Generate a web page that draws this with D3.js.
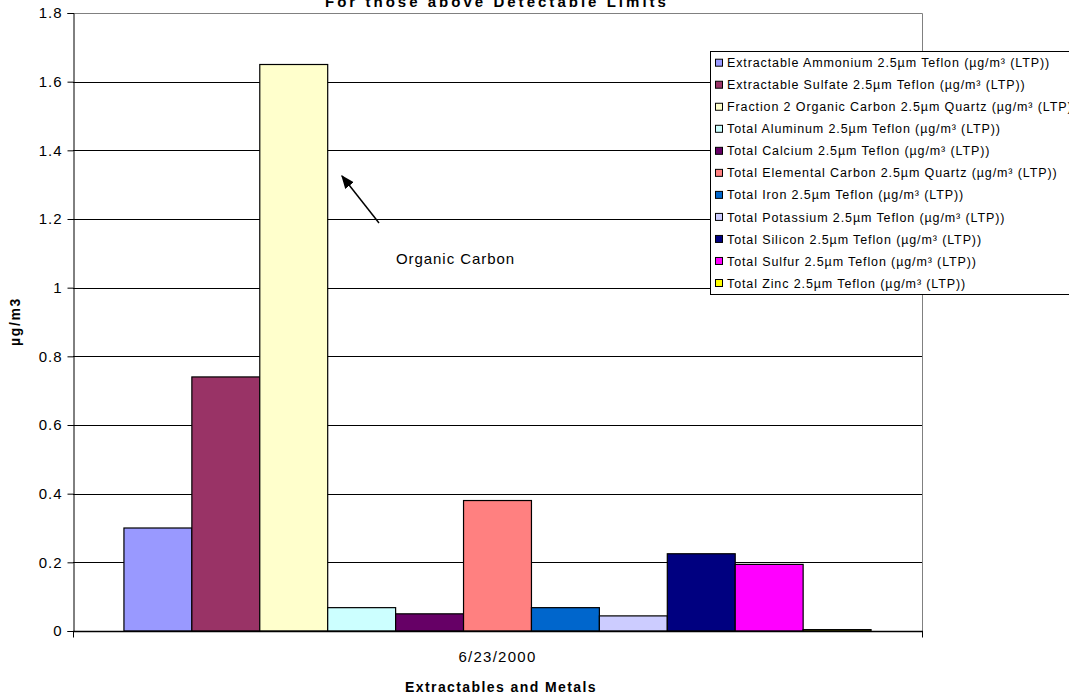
<!DOCTYPE html>
<html>
<head>
<meta charset="utf-8">
<script src="https://cdn.jsdelivr.net/npm/d3@7"></script>
<style>
  html, body { margin: 0; padding: 0; background: #fff; }
  svg { display: block; font-family: "Liberation Sans", Arial, sans-serif; }
</style>
</head>
<body>
<svg id="chart" width="1069" height="698"></svg>
<script>
// Sample date (single category)
const categories = ["6/23/2000"];

// Species measured above detectable limits
const seriesNames = [
  "Extractable Ammonium 2.5µm Teflon (µg/m³ (LTP))",
  "Extractable Sulfate 2.5µm Teflon (µg/m³ (LTP))",
  "Fraction 2 Organic Carbon 2.5µm Quartz (µg/m³ (LTP))",
  "Total Aluminum 2.5µm Teflon (µg/m³ (LTP))",
  "Total Calcium 2.5µm Teflon (µg/m³ (LTP))",
  "Total Elemental Carbon 2.5µm Quartz (µg/m³ (LTP))",
  "Total Iron 2.5µm Teflon (µg/m³ (LTP))",
  "Total Potassium 2.5µm Teflon (µg/m³ (LTP))",
  "Total Silicon 2.5µm Teflon (µg/m³ (LTP))",
  "Total Sulfur 2.5µm Teflon (µg/m³ (LTP))",
  "Total Zinc 2.5µm Teflon (µg/m³ (LTP))"
];

// Concentrations, µg/m3
const seriesValues = [0.30, 0.74, 1.65, 0.068, 0.050, 0.38, 0.068, 0.044, 0.225, 0.194, 0.004];

const seriesColors = ["#9999FF", "#993366", "#FFFFCC", "#CCFFFF", "#660066", "#FF8080",
                      "#0066CC", "#CCCCFF", "#000080", "#FF00FF", "#FFFF00"];

const yTicks = [0, 0.2, 0.4, 0.6, 0.8, 1, 1.2, 1.4, 1.6, 1.8];

const titleText = "For those above Detectable Limits";
const xTitle = "Extractables and Metals";
const yTitle = "µg/m3";
const noteText = "Organic Carbon";

// Widen a text element's tracking so it spans the given width
function spread(sel, width) {
  sel.each(function () {
    const n = this.getNumberOfChars();
    const len = this.getComputedTextLength();
    if (n > 1 && width > len) d3.select(this).attr("letter-spacing", ((width - len) / n).toFixed(3));
  });
}

const svg = d3.select("#chart");
const plot = { left: 73, top: 13, right: 922, bottom: 631 };

const y = d3.scaleLinear().domain([0, 1.8]).range([plot.bottom, plot.top]);
const x0 = d3.scaleBand().domain(categories).range([plot.left, plot.right]).paddingInner(0).paddingOuter(0);
// Gap of 150% of one bar width, split across both sides of the cluster
const bw = x0.bandwidth() / (seriesNames.length + 1.5);
const x1 = d3.scaleBand().domain(d3.range(seriesNames.length))
  .range([x0(categories[0]) + bw * 0.75, x0(categories[0]) + x0.bandwidth() - bw * 0.75]).padding(0);

// Gridlines
svg.append("g").selectAll("line").data(yTicks.filter(d => d > 0)).join("line")
  .attr("x1", plot.left).attr("x2", plot.right)
  .attr("y1", d => Math.round(y(d)) + 0.5).attr("y2", d => Math.round(y(d)) + 0.5)
  .attr("stroke", "#000").attr("stroke-width", 1);

// Plot area frame (top and right in grey)
svg.append("path")
  .attr("d", `M${plot.left},${plot.top + 0.5}H${plot.right + 0.5}V${plot.bottom}`)
  .attr("fill", "none").attr("stroke", "#808080").attr("stroke-width", 1);

// Bars
svg.append("g").selectAll("rect").data(seriesValues).join("rect")
  .attr("x", (d, i) => x1(i))
  .attr("width", x1.bandwidth())
  .attr("y", d => y(d))
  .attr("height", d => y(0) - y(d))
  .attr("fill", (d, i) => seriesColors[i])
  .attr("stroke", "#000").attr("stroke-width", 1.2);

// Y axis
const yAxis = d3.axisLeft(y).tickValues(yTicks).tickSize(6).tickPadding(6)
  .tickFormat(d => String(+d.toFixed(1)));
const gy = svg.append("g").attr("transform", `translate(${plot.left + 0.5},0)`).call(yAxis);
gy.select(".domain").attr("stroke", "#000");
gy.selectAll(".tick line").attr("stroke", "#000");
gy.selectAll("text").attr("font-size", 15).attr("fill", "#000")
  .attr("font-family", "'Liberation Sans', Arial, sans-serif").attr("letter-spacing", 0.9)
  .attr("dx", 0.9);

// X axis
const gx = svg.append("g").attr("transform", `translate(0,${plot.bottom + 0.5})`);
gx.append("line").attr("x1", plot.left).attr("x2", plot.right + 1).attr("stroke", "#000").attr("stroke-width", 1.5);
gx.selectAll(".edge").data([plot.left, plot.right]).join("line").attr("class", "edge")
  .attr("x1", d => d + 0.5).attr("x2", d => d + 0.5).attr("y1", 0).attr("y2", 6).attr("stroke", "#000");
gx.selectAll(".cat").data(categories).join("text").attr("class", "cat")
  .attr("x", d => x0(d) + x0.bandwidth() / 2 - 39).attr("y", 30)
  .attr("font-size", 15).text(d => d)
  .call(spread, 78);

// Titles
svg.append("text").attr("x", 497 - 172).attr("y", 6.5)
  .attr("font-size", 15).attr("font-weight", "bold").text(titleText).call(spread, 344);
svg.append("text").attr("x", 405).attr("y", 692)
  .attr("font-size", 14).attr("font-weight", "bold").text(xTitle).call(spread, 192);
svg.append("text").attr("transform", "translate(20,346) rotate(-90)")
  .attr("font-size", 14).attr("font-weight", "bold").text(yTitle).call(spread, 49);

// Annotation arrow pointing at the organic carbon bar
svg.append("defs").append("marker").attr("id", "arrowhead")
  .attr("viewBox", "0 0 10 10").attr("refX", 9).attr("refY", 5)
  .attr("markerWidth", 9).attr("markerHeight", 9).attr("orient", "auto")
  .append("path").attr("d", "M0,1 L10,5 L0,9 Z").attr("fill", "#000");
svg.append("line").attr("x1", 379).attr("y1", 223).attr("x2", 342).attr("y2", 176)
  .attr("stroke", "#000").attr("stroke-width", 1.5).attr("marker-end", "url(#arrowhead)");
svg.append("text").attr("x", 396).attr("y", 264).attr("font-size", 15).text(noteText).call(spread, 119);

// Legend
const lg = svg.append("g").attr("transform", "translate(710,51)");
lg.append("rect").attr("x", 0.5).attr("y", 0.5).attr("width", 380).attr("height", 243)
  .attr("fill", "#fff").attr("stroke", "#000").attr("stroke-width", 1);
const rows = lg.selectAll(".row").data(seriesNames).join("g").attr("class", "row")
  .attr("transform", (d, i) => `translate(0,${11.7 + i * 22.03})`);
rows.append("rect").attr("x", 5.5).attr("y", -3.5).attr("width", 7).attr("height", 7)
  .attr("fill", (d, i) => seriesColors[i]).attr("stroke", "#000").attr("stroke-width", 1);
const labels = rows.append("text").attr("x", 17).attr("y", 4.6).attr("font-size", 12.5).text(d => d);
// Uniform tracking for all legend entries, set from the first entry's width
const first = labels.node();
const track = (323 - first.getComputedTextLength()) / first.getNumberOfChars();
labels.attr("letter-spacing", Math.max(0, track).toFixed(3));
</script>
</body>
</html>
